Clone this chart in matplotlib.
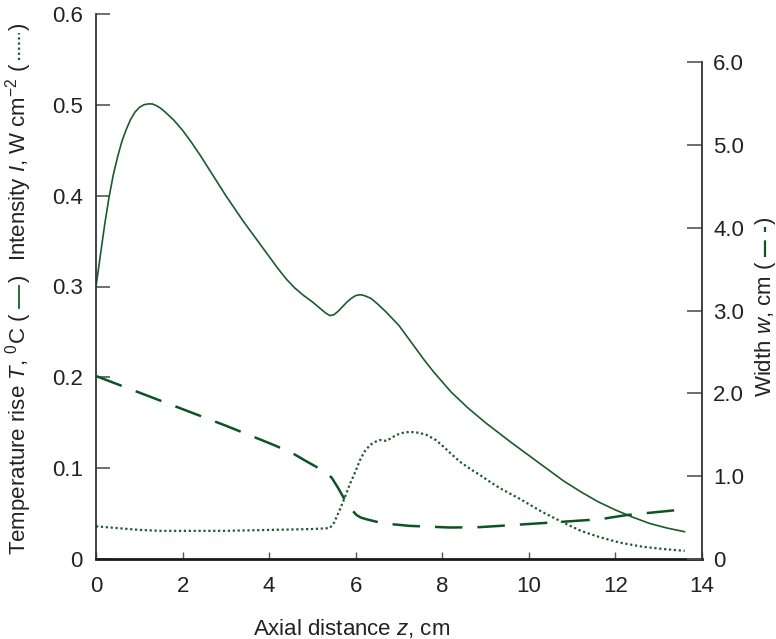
import matplotlib
matplotlib.use("Agg")
import matplotlib.pyplot as plt
from matplotlib.lines import Line2D

plt.rcParams['font.family'] = ['Liberation Sans', 'DejaVu Sans']
plt.rcParams['mathtext.fontset'] = 'custom'
plt.rcParams['mathtext.rm'] = 'Liberation Sans'
plt.rcParams['mathtext.it'] = 'Liberation Sans:italic'

# ---- data ----
z_T = [0.0, 0.1, 0.2, 0.3, 0.4, 0.5, 0.6, 0.7, 0.8, 0.9, 1.0, 1.1, 1.2, 1.3, 1.4, 1.5, 1.6,
       1.8, 2.0, 2.2, 2.4, 2.6, 2.8, 3.0, 3.2, 3.4, 3.6, 3.8, 4.0, 4.2, 4.4, 4.6, 4.8, 5.0,
       5.2, 5.3, 5.4, 5.5, 5.6, 5.7, 5.8, 5.9, 6.0, 6.1, 6.2, 6.35, 6.5, 6.7, 7.0, 7.2, 7.4,
       7.6, 7.8, 8.0, 8.2, 8.4, 8.6, 8.8, 9.0, 9.3, 9.6, 10.0, 10.4, 10.8, 11.2, 11.6, 12.0,
       12.4, 12.8, 13.2, 13.6]
T_rise = [0.300, 0.334, 0.368, 0.398, 0.423, 0.443, 0.460, 0.473, 0.484, 0.492, 0.497, 0.500,
          0.501, 0.501, 0.499, 0.496, 0.492, 0.483, 0.472, 0.459, 0.445, 0.430, 0.415, 0.400,
          0.386, 0.372, 0.359, 0.346, 0.333, 0.320, 0.308, 0.298, 0.290, 0.283, 0.275, 0.271,
          0.268, 0.269, 0.273, 0.278, 0.283, 0.287, 0.290, 0.291, 0.290, 0.287, 0.281, 0.272,
          0.257, 0.244, 0.231, 0.218, 0.206, 0.195, 0.184, 0.175, 0.166, 0.158, 0.150, 0.139,
          0.128, 0.114, 0.100, 0.086, 0.074, 0.063, 0.054, 0.046, 0.039, 0.034, 0.030]

z_I = [0.0, 0.5, 1.0, 1.5, 2.0, 3.0, 4.0, 5.0, 5.4, 5.5, 5.63, 5.75, 5.87, 6.0, 6.1, 6.2, 6.33,
       6.45, 6.56, 6.71, 6.85, 6.94, 7.1, 7.25, 7.45, 7.64, 7.85, 8.02, 8.2, 8.41, 8.65, 8.87,
       9.1, 9.33, 9.8, 10.3, 10.8, 11.2, 11.64, 12.1, 12.63, 13.1, 13.6]
intensity = [0.036, 0.034, 0.032, 0.031, 0.031, 0.031, 0.032, 0.033, 0.034, 0.040, 0.054, 0.068,
             0.083, 0.097, 0.109, 0.118, 0.1255, 0.129, 0.131, 0.130, 0.134, 0.1366, 0.139,
             0.140, 0.139, 0.1366, 0.131, 0.124, 0.116, 0.107, 0.099, 0.0925, 0.085, 0.078,
             0.066, 0.052, 0.040, 0.031, 0.024, 0.018, 0.0135, 0.011, 0.009]

z_w = [0.0, 1.0, 2.0, 3.0, 4.0, 4.5, 4.86, 5.1, 5.25, 5.44, 5.58, 5.71, 5.85, 6.02, 6.12, 6.25,
       6.63, 7.25, 8.18, 8.87, 9.33, 10.5, 11.64, 12.25, 13.6]
width = [2.21, 2.01, 1.81, 1.61, 1.40, 1.29, 1.18, 1.11, 1.065, 0.985, 0.87, 0.75, 0.63, 0.53,
         0.50, 0.48, 0.43, 0.40, 0.38, 0.385, 0.40, 0.44, 0.48, 0.53, 0.60]

x_ticks = [0, 2, 4, 6, 8, 10, 12, 14]
left_ticks = [0, 0.1, 0.2, 0.3, 0.4, 0.5, 0.6]
left_labels = ['0', '0.1', '0.2', '0.3', '0.4', '0.5', '0.6']
right_ticks = [0, 1, 2, 3, 4, 5, 6]
right_labels = ['0', '1.0', '2.0', '3.0', '4.0', '5.0', '6.0']

# ---- figure ----
W, H = 776, 639
fig = plt.figure(figsize=(W / 100, H / 100), dpi=100)
ax = fig.add_axes([96 / W, 80 / H, 606 / W, 545 / H])
ax2 = ax.twinx()

green = '#1d5a2c'
dgreen = '#0d5424'
spine_c = '#333333'
txt_c = '#222222'
fs = 16

ax.plot(z_T, T_rise, color=green, lw=1.2, solid_capstyle='round', solid_joinstyle='round')
ax.plot(z_I, intensity, color=green, lw=1.6, linestyle=(0, (1.0, 1.2)))
ax2.plot(z_w, width, color=dgreen, lw=1.8, linestyle=(0, (11, 6)))

ax.set_xlim(0, 14)
ax.set_ylim(0, 0.6)
ax2.set_ylim(0, 545 / 82.8)

for s in ['top', 'right']:
    ax.spines[s].set_visible(False)
for s in ['top', 'left', 'bottom']:
    ax2.spines[s].set_visible(False)
ax.spines['left'].set_color(spine_c)
ax.spines['left'].set_linewidth(1.3)
ax.spines['bottom'].set_color('#1a1a1a')
ax.spines['bottom'].set_linewidth(2.0)
ax2.spines['right'].set_color(spine_c)
ax2.spines['right'].set_linewidth(1.3)
ax2.spines['right'].set_bounds(0, 6)

ax.set_xticks(x_ticks)
ax.set_xticklabels([str(v) for v in x_ticks])
ax.set_yticks(left_ticks)
ax.set_yticklabels(left_labels)
ax2.set_yticks(right_ticks)
ax2.set_yticklabels(right_labels)

ax.tick_params(axis='x', direction='in', length=5, width=1.0, color='#555555',
               labelsize=fs, labelcolor=txt_c, pad=12)
ax.tick_params(axis='y', direction='in', length=10, width=1.2, color='#555555',
               labelsize=fs, labelcolor=txt_c, pad=9.5)
ax2.tick_params(axis='y', direction='in', length=10.5, width=1.2, color='#555555',
                labelsize=fs, labelcolor=txt_c, pad=8)

fig.text(352 / W, (H - 628) / H, 'Axial distance $z$, cm', ha='center', va='center',
         fontsize=fs, color=txt_c)

# ---- composite rotated axis labels with line keys ----
fig.canvas.draw()
rend = fig.canvas.get_renderer()


def vertical_label(xc_px, y_start_px, pieces):
    y = H - y_start_px  # pixel from bottom
    for kind, val, extra in pieces:
        if kind == 'text':
            t = fig.text(xc_px / W, y / H, val, rotation=90, rotation_mode='anchor',
                         ha='left', va='center', fontsize=fs, color=txt_c)
            bb = t.get_window_extent(rend)
            y = bb.y1 + extra
        else:
            length, style, lw, col = val
            ln = Line2D([xc_px / W, xc_px / W], [y / H, (y + length) / H],
                        transform=fig.transFigure, color=col, lw=lw, linestyle=style)
            fig.add_artist(ln)
            y = y + length + extra


vertical_label(19, 555, [
    ('text', 'Temperature rise $T$, $^0$C (', 4),
    ('line', (22, '-', 1.3, green), 4),
    ('text', ')', 14),
    ('text', 'Intensity $I$, W cm$^{-2}$ (', 3),
    ('line', (27, (0, (1.0, 1.3)), 1.6, green), 3),
    ('text', ')', 0),
])

vertical_label(765, 397, [
    ('text', 'Width $w$, cm (', 3),
    ('line', (30, (0, (7.5, 3.75)), 1.6, dgreen), 3),
    ('text', ')', 0),
])

fig.savefig('out.png', dpi=100)
